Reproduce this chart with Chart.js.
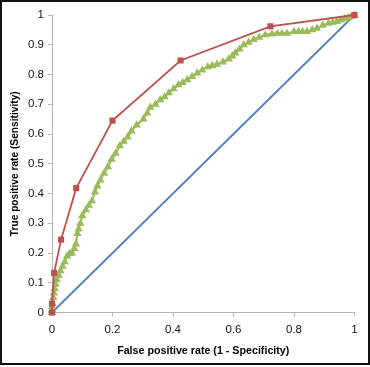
<!DOCTYPE html>
<html>
<head>
<meta charset="utf-8">
<script src="https://cdn.jsdelivr.net/npm/chart.js@4/dist/chart.umd.min.js"></script>
<style>
html,body{margin:0;padding:0;background:#fff;}
#wrap{width:370px;height:367px;position:relative;}
</style>
</head>
<body>
<div id="wrap"><canvas id="c" width="370" height="367"></canvas></div>
<script>
// Series A (red squares)
const redX = [0, 0, 0.007, 0.03, 0.08, 0.2, 0.425, 0.722, 1];
const redY = [0, 0.03, 0.133, 0.245, 0.418, 0.645, 0.847, 0.962, 1];

// Series B (green triangles)
const greenX = [0,0,0,0.002,0.004,0.006,0.009,0.012,0.016,0.022,0.028,0.035,0.042,0.05,0.058,0.066,0.074,0.079,0.084,0.088,0.094,0.1,0.112,0.122,0.132,0.142,0.15,0.16,0.172,0.185,0.197,0.21,0.224,0.237,0.25,0.263,0.28,0.302,0.315,0.325,0.342,0.358,0.372,0.386,0.402,0.418,0.432,0.447,0.463,0.48,0.497,0.515,0.53,0.545,0.565,0.584,0.596,0.606,0.62,0.634,0.65,0.667,0.685,0.705,0.727,0.745,0.76,0.777,0.8,0.815,0.828,0.843,0.86,0.876,0.895,0.914,0.928,0.942,0.955,0.968,0.98,0.99,1];
const greenY = [0,0.01,0.02,0.03,0.05,0.065,0.08,0.095,0.11,0.125,0.14,0.155,0.17,0.19,0.198,0.2,0.215,0.23,0.265,0.28,0.3,0.325,0.345,0.36,0.375,0.405,0.425,0.445,0.468,0.49,0.515,0.535,0.56,0.575,0.59,0.61,0.63,0.65,0.67,0.69,0.7,0.715,0.725,0.738,0.752,0.765,0.773,0.782,0.793,0.805,0.815,0.826,0.83,0.834,0.842,0.852,0.862,0.872,0.885,0.9,0.908,0.917,0.925,0.933,0.936,0.938,0.938,0.938,0.944,0.944,0.944,0.944,0.95,0.955,0.965,0.972,0.975,0.978,0.983,0.987,0.991,0.995,1];

// Reference diagonal (blue)
const diagX = [0, 1];
const diagY = [0, 1];

const xTickLabels = ['0','0.2','0.4','0.6','0.8','1'];
const yTickLabels = ['0','0.1','0.2','0.3','0.4','0.5','0.6','0.7','0.8','0.9','1'];

const xTitle = 'False positive rate (1 - Specificity)';
const yTitle = 'True positive rate (Sensitivity)';

const pts = (xs, ys) => xs.map((x, i) => ({x: x, y: ys[i]}));
const FONT = "'Liberation Sans', Arial, sans-serif";

const frame = {
  id: 'frame',
  afterDraw(chart) {
    const ctx = chart.ctx;
    ctx.save();
    ctx.strokeStyle = '#111';
    ctx.lineWidth = 2;
    ctx.strokeRect(1, 1, 368, 363);
    ctx.restore();
  }
};

new Chart(document.getElementById('c'), {
  type: 'scatter',
  data: {
    datasets: [
      {
        label: 'A',
        data: pts(redX, redY),
        showLine: true,
        borderColor: '#C0504D',
        backgroundColor: '#C0504D',
        borderWidth: 1.8,
        pointStyle: 'rect',
        pointRadius: 4.3,
        pointBorderWidth: 0,
        clip: false
      },
      {
        label: 'B',
        data: pts(greenX, greenY),
        showLine: true,
        borderColor: '#9BBB59',
        backgroundColor: '#9BBB59',
        borderWidth: 2.2,
        pointStyle: 'triangle',
        pointRadius: 4.8,
        pointBorderWidth: 0,
        clip: false
      },
      {
        label: 'C',
        data: pts(diagX, diagY),
        showLine: true,
        borderColor: '#4F81BD',
        backgroundColor: '#4F81BD',
        borderWidth: 1.8,
        pointRadius: 0,
        clip: false
      }
    ]
  },
  options: {
    responsive: false,
    animation: false,
    devicePixelRatio: 1,
    layout: {padding: {left: 0, right: 15.5, top: 15, bottom: 0}},
    plugins: {legend: {display: false}, tooltip: {enabled: false}},
    scales: {
      x: {
        type: 'linear',
        min: 0, max: 1,
        afterFit(s) { s.height = 54.5; },
        ticks: {
          stepSize: 0.2,
          padding: 6,
          color: '#111',
          font: {family: FONT, size: 11.5},
          callback: (v, i) => xTickLabels[i]
        },
        grid: {display: true, drawOnChartArea: false, drawTicks: true, tickLength: 4, color: '#b5b5b5'},
        border: {display: true, color: '#b5b5b5', width: 1},
        title: {display: true, text: xTitle, color: '#000', font: {family: FONT, size: 10.7, weight: 'bold'}, padding: {top: 0, bottom: 9.4}}
      },
      y: {
        type: 'linear',
        min: 0, max: 1,
        afterFit(s) { s.width = 52; },
        ticks: {
          stepSize: 0.1,
          padding: 4,
          color: '#111',
          font: {family: FONT, size: 11.5},
          callback: (v, i) => yTickLabels[i]
        },
        grid: {display: true, drawOnChartArea: false, drawTicks: true, tickLength: 4, color: '#b5b5b5'},
        border: {display: true, color: '#b5b5b5', width: 1},
        title: {display: true, text: yTitle, color: '#000', font: {family: FONT, size: 10.2, weight: 'bold'}, padding: {top: 9, bottom: 0}}
      }
    }
  },
  plugins: [frame]
});
</script>
</body>
</html>
